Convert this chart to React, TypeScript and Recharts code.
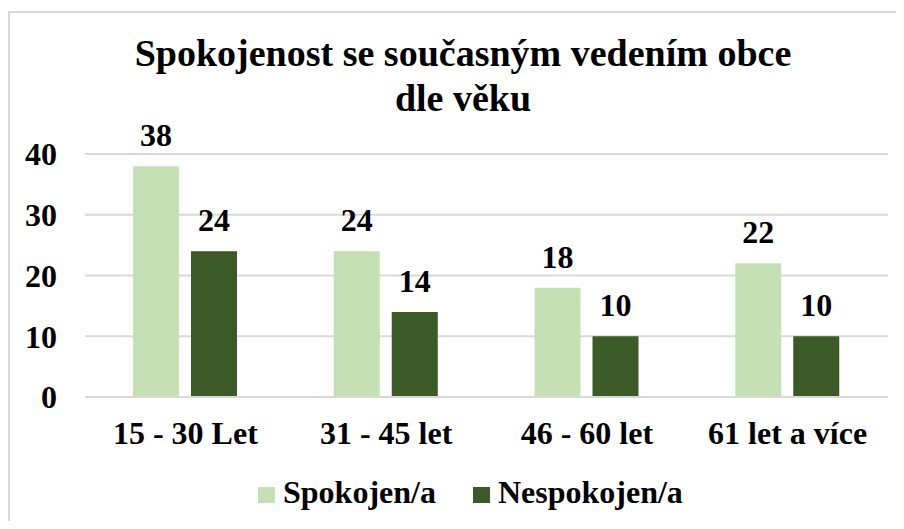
import React from 'react';
import { BarChart, Bar, XAxis, YAxis, CartesianGrid, LabelList } from 'recharts';

const categories = ['15 - 30 Let', '31 - 45 let', '46 - 60 let', '61 let a více'];
const spokojeni = [38, 24, 18, 22];
const nespokojeni = [24, 14, 10, 10];
const yTicks = [0, 10, 20, 30, 40];

const LIGHT = '#c5e0b4';
const DARK = '#3b5a27';
const FONT = '"Liberation Serif", "Times New Roman", serif';

const data = categories.map((name, i) => ({
    name,
    spokojen: spokojeni[i],
    nespokojen: nespokojeni[i],
}));

const labelStyle = { fill: '#000', fontSize: 32, fontWeight: 'bold', fontFamily: FONT };
const tickStyle = { fill: '#000', fontSize: 32, fontWeight: 'bold', fontFamily: FONT };

const LegendItem = ({ color, label, gap }: { color: string; label: string; gap: number }) => (
    <span style={{ marginRight: gap }}>
        <span style={{ display: 'inline-block', width: 17, height: 16, background: color, marginRight: 8 }} />
        {label}
    </span>
);

export default function App() {
    return (
        <div style={{ position: 'relative', width: 904, height: 529, margin: -8, fontFamily: FONT, background: '#fff', overflow: 'hidden' }}>
            <div style={{ position: 'absolute', left: 8, top: 11, width: 910, height: 530, border: '2px solid #d9d9d9', boxSizing: 'border-box' }} />
            <div style={{ position: 'absolute', left: 0, top: 31, width: 926, textAlign: 'center', fontSize: 38, fontWeight: 'bold', lineHeight: '45px', color: '#000', whiteSpace: 'nowrap' }}>
                Spokojenost se současným vedením obce
                <br />
                dle věku
            </div>
            <div style={{ position: 'absolute', left: 0, top: 0 }}>
                <BarChart
                    width={904}
                    height={529}
                    data={data}
                    margin={{ top: 154, right: 16, left: 0, bottom: 72 }}
                    barGap={12}
                    barSize={46}
                >
                    <CartesianGrid vertical={false} stroke="#d9d9d9" strokeWidth={2} />
                    <XAxis
                        dataKey="name"
                        axisLine={{ stroke: '#d9d9d9', strokeWidth: 2 }}
                        tickLine={false}
                        tickSize={0}
                        tickMargin={24}
                        height={60}
                        interval={0}
                        tick={tickStyle}
                    />
                    <YAxis
                        domain={[0, 40]}
                        ticks={yTicks}
                        width={85}
                        axisLine={false}
                        tickLine={false}
                        tickSize={0}
                        tickMargin={28}
                        tick={tickStyle}
                    />
                    <Bar dataKey="spokojen" fill={LIGHT} isAnimationActive={false}>
                        <LabelList dataKey="spokojen" position="top" offset={20} style={labelStyle} />
                    </Bar>
                    <Bar dataKey="nespokojen" fill={DARK} isAnimationActive={false}>
                        <LabelList dataKey="nespokojen" position="top" offset={20} style={labelStyle} />
                    </Bar>
                </BarChart>
            </div>
            <div style={{ position: 'absolute', left: 258, top: 474, fontSize: 32, lineHeight: '36px', fontWeight: 'bold', color: '#000', whiteSpace: 'nowrap' }}>
                <LegendItem color={LIGHT} label="Spokojen/a" gap={37} />
                <LegendItem color={DARK} label="Nespokojen/a" gap={0} />
            </div>
        </div>
    );
}
